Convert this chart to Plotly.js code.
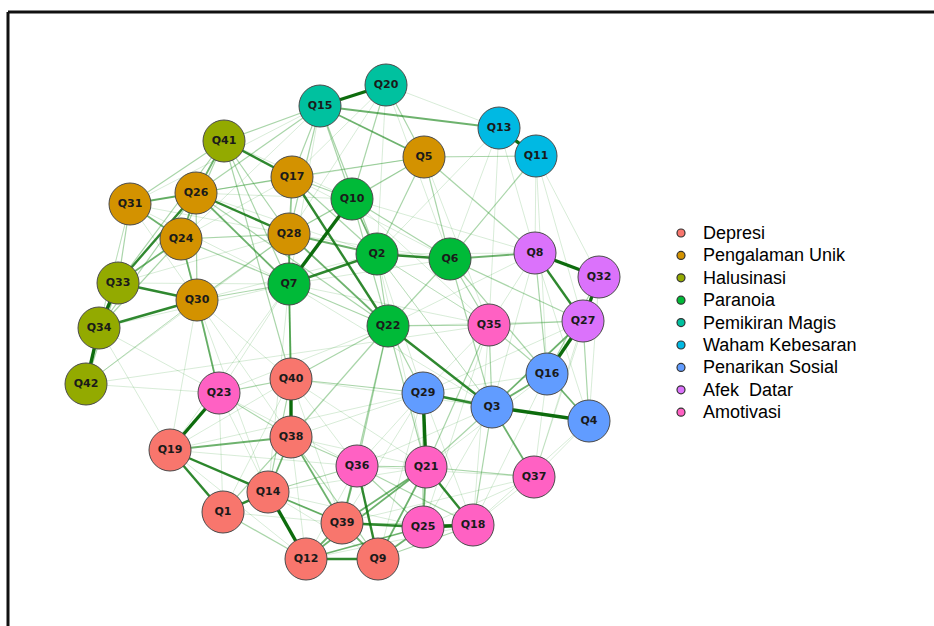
<!DOCTYPE html>
<html>
<head>
<meta charset="utf-8">
<script src="https://cdn.plot.ly/plotly-3.0.1.min.js"></script>
<style>html,body{margin:0;padding:0;background:#fff;}#chart{width:934px;height:626px;}</style>
</head>
<body>
<div id="chart"></div>
<script>
// ---- data ----
var groupNames = ["Depresi","Pengalaman Unik","Halusinasi","Paranoia","Pemikiran Magis","Waham Kebesaran","Penarikan Sosial","Afek  Datar","Amotivasi"];
var groupColors = ["#F8766D","#D39200","#93AA00","#00BA38","#00C19F","#00B9E3","#619CFF","#DB72FB","#FF61C3"];

var nodeNames = ["Q20","Q15","Q13","Q11","Q41","Q5","Q17","Q26","Q31","Q10","Q24","Q28","Q2","Q6","Q8","Q32","Q33","Q7","Q30","Q34","Q22","Q35","Q27","Q16","Q42","Q23","Q40","Q29","Q3","Q4","Q19","Q38","Q36","Q21","Q37","Q14","Q1","Q39","Q25","Q18","Q12","Q9"];
var nodeX = [386,320,499,536,224,424,292,196,130,352,181,289,377,450,535,599,118,289,197,99,388,489,583,547,86,219,291,423,492,589,170,291,357,426,534,268,223,342,423,473,306,378];
var nodeY = [85,106,128,156,141,157,177,193,204,199,239,234,254,259,253,277,283,284,300,328,326,325,321,374,384,393,379,393,407,421,450,437,466,467,477,492,512,523,527,525,559,559];
var nodeGroup = [4,4,5,5,2,1,1,1,1,3,1,1,3,3,7,7,2,3,1,2,3,8,7,6,2,8,0,6,6,6,0,0,8,8,8,0,0,0,8,8,0,0];

var edgeFrom = [], edgeTo = [], edgeWeight = [];
var edgeList = [
 // weight 5
 ["Q15","Q20",5],["Q13","Q11",5],["Q33","Q34",5],["Q34","Q42",5],["Q8","Q32",5],["Q32","Q27",5],["Q27","Q16",5],["Q3","Q4",5],["Q29","Q21",5],["Q40","Q38",5],["Q23","Q19",5],["Q14","Q12",5],["Q25","Q18",5],["Q10","Q7",5],
 // weight 4
 ["Q41","Q17",4],["Q26","Q28",4],["Q33","Q30",4],["Q34","Q30",4],["Q7","Q2",4],["Q2","Q6",4],["Q8","Q27",4],["Q22","Q3",4],["Q19","Q1",4],["Q1","Q14",4],["Q36","Q9",4],["Q39","Q25",4],["Q12","Q9",4],["Q17","Q22",4],["Q3","Q29",4],["Q21","Q18",4],["Q19","Q14",4],["Q33","Q26",4],
 // weight 3
 ["Q41","Q26",3],["Q31","Q26",3],["Q26","Q24",3],["Q24","Q30",3],["Q26","Q7",3],["Q28","Q2",3],["Q28","Q7",3],["Q7","Q40",3],["Q19","Q38",3],["Q38","Q14",3],["Q38","Q39",3],["Q14","Q39",3],["Q39","Q12",3],["Q9","Q25",3],["Q9","Q21",3],["Q21","Q39",3],["Q21","Q25",3],["Q16","Q4",3],["Q16","Q3",3],["Q27","Q3",3],["Q15","Q5",3],["Q15","Q13",3],["Q28","Q22",3],["Q12","Q25",3],["Q6","Q8",3],["Q30","Q23",3],["Q36","Q39",3],["Q33","Q24",3],["Q3","Q37",3],["Q12","Q21",3],["Q2","Q10",3],["Q31","Q24",3],["Q39","Q9",3],
 // weight 2
 ["Q41","Q40",2],["Q33","Q41",2],["Q22","Q38",2],["Q22","Q21",2],["Q22","Q36",2],["Q22","Q29",2],["Q22","Q35",2],["Q22","Q6",2],["Q22","Q2",2],["Q22","Q39",2],
 ["Q6","Q5",2],["Q6","Q35",2],["Q6","Q10",2],["Q6","Q11",2],["Q6","Q3",2],["Q6","Q16",2],["Q6","Q27",2],
 ["Q5","Q17",2],["Q5","Q10",2],["Q5","Q2",2],["Q5","Q11",2],["Q5","Q8",2],
 ["Q15","Q41",2],["Q15","Q26",2],["Q15","Q17",2],["Q15","Q10",2],["Q15","Q28",2],["Q15","Q2",2],
 ["Q20","Q5",2],["Q20","Q10",2],
 ["Q8","Q16",2],["Q32","Q16",2],["Q27","Q35",2],["Q27","Q4",2],
 ["Q35","Q3",2],["Q35","Q16",2],["Q35","Q21",2],
 ["Q3","Q18",2],["Q3","Q21",2],["Q29","Q40",2],["Q29","Q25",2],["Q37","Q21",2],
 ["Q21","Q36",2],["Q36","Q38",2],["Q36","Q25",2],["Q36","Q18",2],["Q36","Q14",2],
 ["Q39","Q18",2],["Q18","Q9",2],["Q9","Q38",2],["Q12","Q1",2],["Q14","Q40",2],["Q1","Q38",2],
 ["Q23","Q40",2],["Q23","Q38",2],["Q40","Q22",2],["Q38","Q7",2],
 ["Q7","Q22",2],["Q7","Q30",2],["Q7","Q24",2],["Q7","Q41",2],["Q7","Q17",2],
 ["Q30","Q26",2],["Q30","Q28",2],["Q34","Q24",2],["Q34","Q26",2],["Q42","Q33",2],
 ["Q33","Q31",2],["Q31","Q41",2],["Q24","Q28",2],["Q24","Q41",2],["Q26","Q17",2],["Q26","Q22",2],
 ["Q41","Q28",2],["Q17","Q28",2],["Q17","Q10",2],["Q17","Q2",2],["Q28","Q10",2],["Q10","Q22",2],
 // weight 1
 ["Q5","Q26",1],["Q5","Q28",1],["Q5","Q35",1],["Q15","Q31",1],["Q15","Q7",1],["Q15","Q24",1],
 ["Q20","Q13",1],["Q20","Q17",1],["Q20","Q2",1],["Q20","Q6",1],["Q20","Q28",1],
 ["Q13","Q6",1],["Q13","Q8",1],["Q13","Q35",1],["Q13","Q2",1],
 ["Q11","Q8",1],["Q11","Q27",1],["Q11","Q16",1],["Q11","Q32",1],
 ["Q8","Q35",1],["Q8","Q3",1],["Q8","Q4",1],["Q8","Q10",1],["Q8","Q2",1],["Q8","Q22",1],
 ["Q32","Q4",1],["Q32","Q37",1],["Q27","Q29",1],["Q27","Q37",1],["Q27","Q22",1],
 ["Q35","Q29",1],["Q35","Q25",1],["Q35","Q2",1],["Q35","Q7",1],["Q35","Q18",1],
 ["Q16","Q29",1],["Q16","Q37",1],["Q16","Q18",1],["Q16","Q21",1],
 ["Q4","Q37",1],["Q4","Q18",1],["Q4","Q29",1],
 ["Q3","Q25",1],["Q3","Q36",1],["Q3","Q40",1],["Q3","Q2",1],
 ["Q29","Q36",1],["Q29","Q39",1],["Q29","Q38",1],["Q29","Q18",1],["Q29","Q9",1],["Q29","Q19",1],
 ["Q37","Q25",1],["Q37","Q39",1],["Q37","Q18",1],["Q37","Q36",1],
 ["Q21","Q38",1],["Q21","Q40",1],["Q21","Q14",1],
 ["Q36","Q40",1],["Q36","Q12",1],["Q36","Q19",1],["Q39","Q40",1],["Q25","Q14",1],["Q18","Q12",1],
 ["Q9","Q14",1],["Q12","Q38",1],["Q12","Q19",1],["Q14","Q23",1],
 ["Q1","Q39",1],["Q1","Q23",1],["Q1","Q40",1],
 ["Q19","Q40",1],["Q19","Q30",1],["Q19","Q34",1],["Q19","Q7",1],["Q19","Q39",1],
 ["Q23","Q7",1],["Q23","Q24",1],["Q23","Q22",1],["Q23","Q34",1],["Q23","Q36",1],
 ["Q40","Q28",1],["Q7","Q6",1],["Q7","Q3",1],["Q7","Q14",1],["Q7","Q31",1],
 ["Q30","Q31",1],["Q30","Q2",1],["Q30","Q38",1],["Q30","Q40",1],["Q30","Q42",1],["Q30","Q14",1],
 ["Q34","Q31",1],["Q34","Q7",1],["Q42","Q35",1],["Q42","Q30",1],["Q42","Q28",1],
 ["Q33","Q28",1],["Q33","Q7",1],["Q31","Q17",1],["Q31","Q28",1],["Q24","Q17",1],
 ["Q26","Q10",1],["Q26","Q2",1],["Q41","Q10",1],["Q17","Q6",1],["Q28","Q6",1],["Q10","Q35",1],
 ["Q2","Q35",1],["Q2","Q3",1],["Q2","Q29",1],["Q2","Q21",1],["Q42","Q23",1],["Q31","Q34",1]
];
edgeList.forEach(function(e){ edgeFrom.push(e[0]); edgeTo.push(e[1]); edgeWeight.push(e[2]); });

// ---- styling (not data) ----
var edgeStyles = {
  1: {color: "rgba(60,160,60,0.2)", width: 1},
  2: {color: "rgba(40,150,40,0.4)", width: 1.2},
  3: {color: "rgba(20,130,20,0.62)", width: 1.8},
  4: {color: "rgba(10,115,10,0.85)", width: 2.4},
  5: {color: "rgba(0,100,0,0.95)", width: 3.4}
};

var idx = {};
nodeNames.forEach(function(n,i){ idx[n]=i; });

var traces = [];
[1,2,3,4,5].forEach(function(w){
  var xs=[], ys=[];
  for (var k=0;k<edgeFrom.length;k++){
    if (edgeWeight[k]!==w) continue;
    var a=idx[edgeFrom[k]], b=idx[edgeTo[k]];
    xs.push(nodeX[a], nodeX[b], null);
    ys.push(nodeY[a], nodeY[b], null);
  }
  traces.push({type:"scatter", mode:"lines", x:xs, y:ys, hoverinfo:"skip", showlegend:false,
    line:{color:edgeStyles[w].color, width:edgeStyles[w].width}});
});

// nodes, one trace per group
groupNames.forEach(function(g,gi){
  var xs=[], ys=[], tx=[];
  for (var i=0;i<nodeNames.length;i++){
    if (nodeGroup[i]===gi){ xs.push(nodeX[i]); ys.push(nodeY[i]); tx.push(nodeNames[i]); }
  }
  traces.push({type:"scatter", mode:"markers+text", x:xs, y:ys, text:tx, name:g, showlegend:false,
    textposition:"middle center", hoverinfo:"text",
    textfont:{family:"DejaVu Sans", size:11, weight:"bold", color:"#1a1a1a"},
    marker:{size:42, color:groupColors[gi], line:{color:"#4a4a4a", width:1}}});
});

// legend built from group names/colours (paper-pixel placement)
var W = 934, H = 626;
var legX = 681, legY0 = 233, legStep = 22.4;
var annotations = [], shapes = [];
groupNames.forEach(function(g,gi){
  var yc = legY0 + legStep*gi;
  annotations.push({xref:"paper", yref:"paper", x:(legX+20)/W, y:1-yc/H, xanchor:"left", yanchor:"middle",
    text:g, showarrow:false, font:{family:"Liberation Sans", size:18, color:"#000"}});
  shapes.push({type:"circle", xref:"paper", yref:"paper",
    x0:(legX-4)/W, x1:(legX+4)/W, y0:1-(yc+4)/H, y1:1-(yc-4)/H,
    fillcolor:groupColors[gi], line:{color:"#333", width:1.2}});
});
// frame
shapes.push({type:"line", xref:"paper", yref:"paper", x0:8/W, x1:1.01, y0:1-12/H, y1:1-12/H, line:{color:"#111", width:3}});
shapes.push({type:"line", xref:"paper", yref:"paper", x0:8/W, x1:8/W, y0:1-12/H, y1:-0.01, line:{color:"#111", width:3}});

var layout = {
  width:W, height:H,
  margin:{l:0,r:0,t:0,b:0},
  paper_bgcolor:"#fff", plot_bgcolor:"#fff",
  xaxis:{range:[0,934], visible:false, fixedrange:true},
  yaxis:{range:[626,0], visible:false, fixedrange:true},
  showlegend:false,
  annotations:annotations,
  shapes:shapes
};

Plotly.newPlot("chart", traces, layout, {displayModeBar:false, staticPlot:true});
</script>
</body>
</html>
